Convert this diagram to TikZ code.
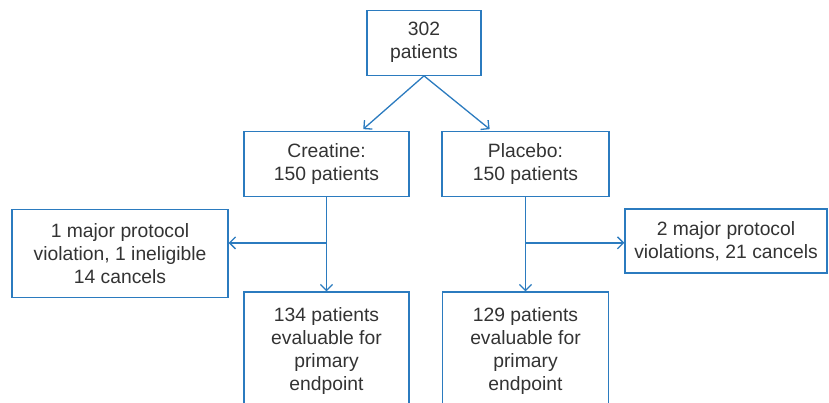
\documentclass[tikz,border=0pt]{standalone}
\usepackage{fontspec}
\setmainfont{Liberation Sans}
\usepackage{tikz}
\usetikzlibrary{arrows.meta,calc}
\definecolor{flowblue}{RGB}{43,123,191}
\definecolor{txtgray}{RGB}{51,51,51}

\begin{document}
\begin{tikzpicture}[
        x=1pt, y=-1pt,
        box/.style={draw=flowblue, line width=1.3pt, text=txtgray, align=center,
            inner sep=0pt, font=\fontsize{19.3}{23}\selectfont},
        link/.style={flowblue, line width=1.3pt,
            -{Straight Barb[length=6pt,width=12pt]}},
    ]
    \useasboundingbox (0,0) rectangle (829,402);

    % top
    \node[box, minimum width=114pt, minimum height=65pt] (total) at (424,42.7)
        {302\\patients};

    % arms
    \node[box, minimum width=165pt, minimum height=64.5pt] (creatine) at (326.5,164)
        {Creatine:\\150 patients};
    \node[box, minimum width=167pt, minimum height=65pt] (placebo) at (525.5,164.2)
        {Placebo:\\150 patients};

    % excluded
    \node[box, minimum width=216pt, minimum height=88.5pt] (exclA) at (120,253.4)
        {1 major protocol\\violation, 1 ineligible\\14 cancels};
    \node[box, minimum width=202pt, minimum height=64pt] (exclB) at (726,241)
        {2 major protocol\\violations, 21 cancels};

    % evaluable (cut off at the bottom)
    \node[box, minimum width=165pt, minimum height=118pt] (evalA) at (326.5,351)
        {134 patients\\evaluable for\\primary\\endpoint};
    \node[box, minimum width=166pt, minimum height=118pt] (evalB) at (525.5,351)
        {129 patients\\evaluable for\\primary\\endpoint};

    % randomisation
    \draw[link, shorten >=3pt] (total.south) -- ([xshift=34.5pt]creatine.north);
    \draw[link, shorten >=3pt] (total.south) -- ([xshift=-33.5pt]placebo.north);

    % creatine arm
    \coordinate (splitA) at ($(creatine.south)+(0,46)$);
    \draw[link] (creatine.south) -- (evalA.north);
    \draw[link] (splitA) -- (splitA -| exclA.east);

    % placebo arm
    \coordinate (splitB) at ($(placebo.south)+(0,45.5)$);
    \draw[link] (placebo.south) -- (evalB.north);
    \draw[link] (splitB) -- (splitB -| exclB.west);
\end{tikzpicture}
\end{document}
